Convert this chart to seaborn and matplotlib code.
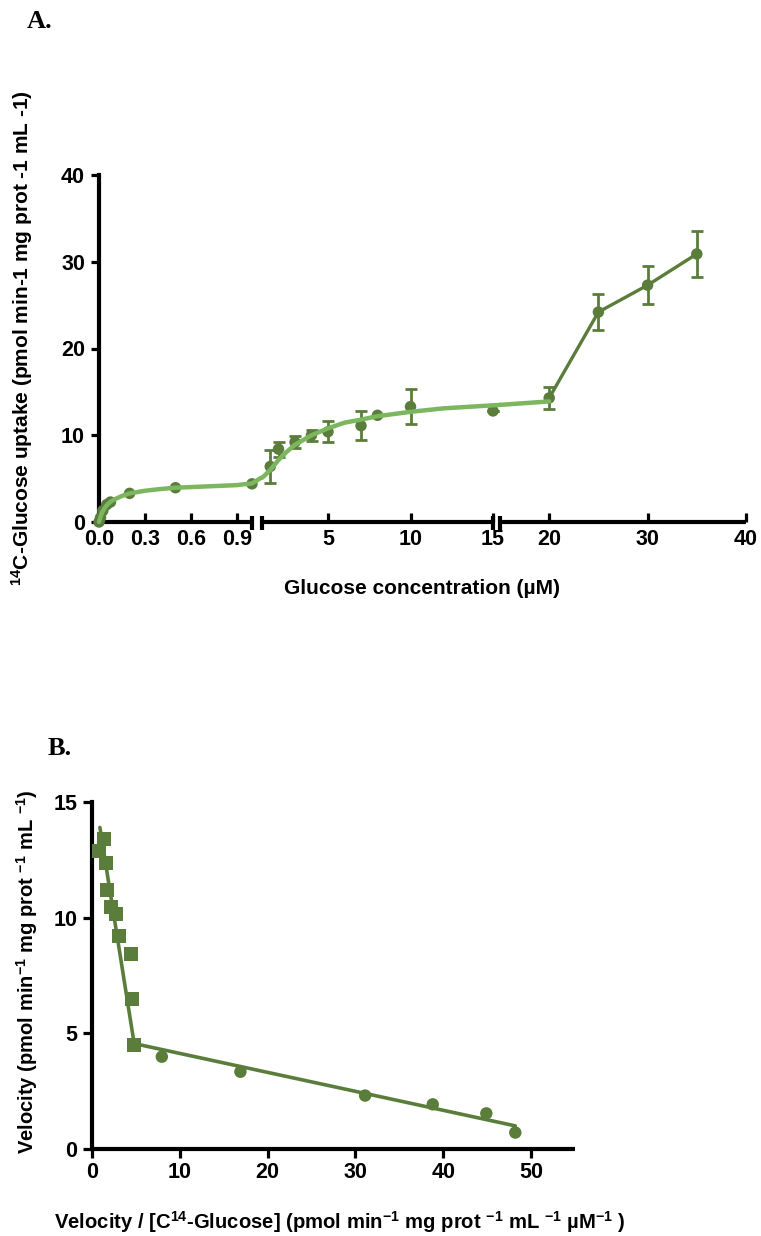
import numpy as np
import pandas as pd
import matplotlib
matplotlib.use("Agg")
import matplotlib.pyplot as plt
import seaborn as sns

# ---------------- data: panel A ----------------
# segment 1 (0 - 1 uM)
a1_x = [0.0, 0.01, 0.025, 0.05, 0.075, 0.2, 0.5, 1.0]
a1_y = [0.0, 0.5, 1.3, 2.0, 2.3, 3.3, 3.95, 4.4]
# segment 2 (1 - 15 uM)
a2_x = [1.5, 2.0, 3.0, 4.0, 5.0, 7.0, 8.0, 10.0, 15.0]
a2_y = [6.4, 8.4, 9.2, 10.0, 10.4, 11.1, 12.3, 13.3, 12.8]
a2_err = [1.85, 0.85, 0.67, 0.65, 1.2, 1.7, 0.0, 2.0, 0.0]
# segment 3 (15 - 40 uM)
a3_x = [20.0, 25.0, 30.0, 35.0]
a3_y = [14.3, 24.2, 27.3, 30.9]
a3_err = [1.3, 2.1, 2.2, 2.7]
# fitted curves
fit1_x = [0.0, 0.01, 0.02, 0.04, 0.06, 0.08, 0.1, 0.15, 0.2, 0.3, 0.4, 0.5, 0.7, 0.9, 1.0, 1.06]
fit1_y = [0.0, 0.6, 1.1, 1.7, 2.1, 2.4, 2.6, 3.0, 3.3, 3.6, 3.8, 3.95, 4.1, 4.25, 4.45, 5.1]
fit2_x = [1.0, 1.1, 1.5, 2.0, 2.5, 3.0, 4.0, 5.0, 6.0, 7.0, 8.0, 10.0, 12.0, 15.0, 15.45]
fit2_y = [5.1, 5.25, 6.0, 7.15, 8.1, 8.9, 10.0, 10.8, 11.45, 11.8, 12.2, 12.7, 13.1, 13.45, 13.5]
fit3_x = [15.0, 20.0]
fit3_y = [13.5, 13.9]

# ---------------- data: panel B ----------------
bsq_x = [0.8, 1.37, 1.6, 1.67, 2.13, 2.7, 3.12, 4.45, 4.52, 4.79]
bsq_y = [12.9, 13.39, 12.35, 11.2, 10.48, 10.15, 9.21, 8.43, 6.47, 4.5]
bci_x = [7.95, 16.9, 31.1, 38.8, 44.9, 48.2]
bci_y = [3.99, 3.34, 2.31, 1.93, 1.54, 0.71]
bl1_x = [0.9, 4.7]
bl1_y = [13.9, 4.8]
bl2_x = [4.9, 48.2]
bl2_y = [4.55, 1.0]

# ---------------- style ----------------
sns.set_style("ticks")
plt.rcParams["font.family"] = ["Liberation Sans", "DejaVu Sans"]
plt.rcParams["font.weight"] = "bold"
plt.rcParams["mathtext.fontset"] = "custom"
plt.rcParams["mathtext.bf"] = "Liberation Sans:bold"
plt.rcParams["mathtext.rm"] = "Liberation Sans:bold"
plt.rcParams["mathtext.default"] = "bf"
for k in ["text.color", "axes.labelcolor", "xtick.color", "ytick.color", "axes.edgecolor"]:
    plt.rcParams[k] = "black"

DARK = "#5a7d3b"
LIGHT = "#7cb65f"
W, H = 761, 1236
TICK_FS = 15.5
LAB_FS = 15

fig = plt.figure(figsize=(W / 100, H / 100), dpi=100)


def px_axes(x0, x1, ytop, ybot):
    return fig.add_axes([x0 / W, 1 - ybot / H, (x1 - x0) / W, (ybot - ytop) / H])


def style_ax(ax, left=True, xdir="in"):
    for s in ["top", "right"]:
        ax.spines[s].set_visible(False)
    ax.spines["left"].set_visible(left)
    ax.spines["bottom"].set_linewidth(3)
    ax.spines["left"].set_linewidth(3)
    ax.spines["bottom"].set_color("black")
    ax.spines["left"].set_color("black")
    ax.spines["bottom"].set_capstyle("butt")
    ax.tick_params(axis="x", direction=xdir, length=6.5, width=2.3, labelsize=TICK_FS,
                   pad=5 if xdir == "in" else 3, color="black", labelcolor="black")
    ax.tick_params(axis="y", direction="out", length=6, width=2.3, labelsize=TICK_FS,
                   pad=4, left=left, labelleft=left, color="black", labelcolor="black")
    ax.patch.set_visible(False)


def breakbar(ax, x):
    ax.axvline(x, ymin=-0.022, ymax=0.016, clip_on=False, color="black", lw=3, solid_capstyle="butt")


def bold_ticks(ax):
    for lab in ax.get_xticklabels() + ax.get_yticklabels():
        lab.set_fontweight("bold")


# ---------------- panel A ----------------
YT, YB = 175, 522
ax1 = px_axes(99, 252, YT, YB)
ax2 = px_axes(262, 493, YT, YB)
ax3 = px_axes(500, 746, YT, YB)

# segment 1
sns.scatterplot(x=a1_x, y=a1_y, ax=ax1, color=DARK, s=68, edgecolor="none", zorder=3, clip_on=False)
sns.lineplot(x=fit1_x, y=fit1_y, ax=ax1, color=LIGHT, lw=3.2, estimator=None, sort=False, zorder=4)
# segment 2
ax2.errorbar(a2_x, a2_y, yerr=a2_err, fmt="none", ecolor=DARK, elinewidth=2, capsize=4, capthick=2, zorder=2, clip_on=False)
sns.scatterplot(x=a2_x, y=a2_y, ax=ax2, color=DARK, s=68, edgecolor="none", zorder=3, clip_on=False)
sns.lineplot(x=fit2_x, y=fit2_y, ax=ax2, color=LIGHT, lw=3.2, estimator=None, sort=False, zorder=4)
# segment 3
ax3.errorbar(a3_x, a3_y, yerr=a3_err, fmt="none", ecolor=DARK, elinewidth=2, capsize=4, capthick=2, zorder=2)
sns.lineplot(x=a3_x, y=a3_y, ax=ax3, color=DARK, lw=2.4, estimator=None, sort=False, zorder=3)
sns.scatterplot(x=a3_x, y=a3_y, ax=ax3, color=DARK, s=68, edgecolor="none", zorder=4)
sns.lineplot(x=fit3_x, y=fit3_y, ax=ax3, color=LIGHT, lw=3.2, estimator=None, sort=False, zorder=5)
for line in ax1.lines + ax2.lines + ax3.lines:
    line.set_clip_on(False)

for ax, lim in [(ax1, (0, 1.0)), (ax2, (1, 15)), (ax3, (15, 40))]:
    ax.set_xlim(*lim)
    ax.set_ylim(0, 40)
    ax.set_xlabel("")
    ax.set_ylabel("")

style_ax(ax1, left=True, xdir="in")
style_ax(ax2, left=False, xdir="in")
style_ax(ax3, left=False, xdir="in")

ax1.set_xticks([0.0, 0.3, 0.6, 0.9])
ax1.set_xticklabels(["0.0", "0.3", "0.6", "0.9"])
ax1.set_yticks([0, 10, 20, 30, 40])
ax2.set_xticks([5, 10, 15])
ax2.set_xticklabels(["5", "10", "15"])
ax3.set_xticks([20, 30, 40])
ax3.set_xticklabels(["20", "30", "40"])
for ax in (ax1, ax2, ax3):
    bold_ticks(ax)

breakbar(ax1, 1.0)
breakbar(ax2, 1.0)
breakbar(ax2, 15)
breakbar(ax3, 15)

fig.text(22 / W, 1 - 338 / H, r"$^{14}$C-Glucose uptake (pmol min-1 mg prot -1 mL -1)",
         rotation=90, ha="center", va="center", fontsize=LAB_FS, fontweight="bold")
fig.text(422 / W, 1 - 588 / H, "Glucose concentration (µM)", ha="center", va="center",
         fontsize=LAB_FS, fontweight="bold")
fig.text(27 / W, 1 - 28 / H, "A.", ha="left", va="baseline", fontsize=19, fontweight="bold",
         family=["Liberation Serif", "DejaVu Serif"])

# ---------------- panel B ----------------
axb = px_axes(92, 575, 802, 1149)
sns.lineplot(x=bl1_x, y=bl1_y, ax=axb, color=DARK, lw=2.6, estimator=None, sort=False, zorder=2)
sns.lineplot(x=bl2_x, y=bl2_y, ax=axb, color=DARK, lw=2.6, estimator=None, sort=False, zorder=2)
sns.scatterplot(x=bsq_x, y=bsq_y, ax=axb, color=DARK, marker="s", s=100, edgecolor="none", zorder=3, clip_on=False)
sns.scatterplot(x=bci_x, y=bci_y, ax=axb, color=DARK, marker="o", s=80, edgecolor="none", zorder=3, clip_on=False)
axb.set_xlim(0, 55)
axb.set_ylim(0, 15)
axb.set_xlabel("")
axb.set_ylabel("")
style_ax(axb, left=True, xdir="out")
axb.tick_params(axis="x", length=6.5)
axb.tick_params(axis="y", length=6.5)
axb.set_xticks([0, 10, 20, 30, 40, 50])
axb.set_yticks([0, 5, 10, 15])
bold_ticks(axb)

fig.text(27 / W, 1 - 972 / H, r"Velocity (pmol min$^{-1}$ mg prot $^{-1}$ mL $^{-1}$)",
         rotation=90, ha="center", va="center", fontsize=14.5, fontweight="bold")
fig.text(340 / W, 1 - 1222 / H,
         r"Velocity / [C$^{14}$-Glucose] (pmol min$^{-1}$ mg prot $^{-1}$ mL $^{-1}$ µM$^{-1}$ )",
         ha="center", va="center", fontsize=14.6, fontweight="bold")
fig.text(48 / W, 1 - 755 / H, "B.", ha="left", va="baseline", fontsize=19, fontweight="bold",
         family=["Liberation Serif", "DejaVu Serif"])

fig.savefig("out.png", dpi=100, facecolor="white")
